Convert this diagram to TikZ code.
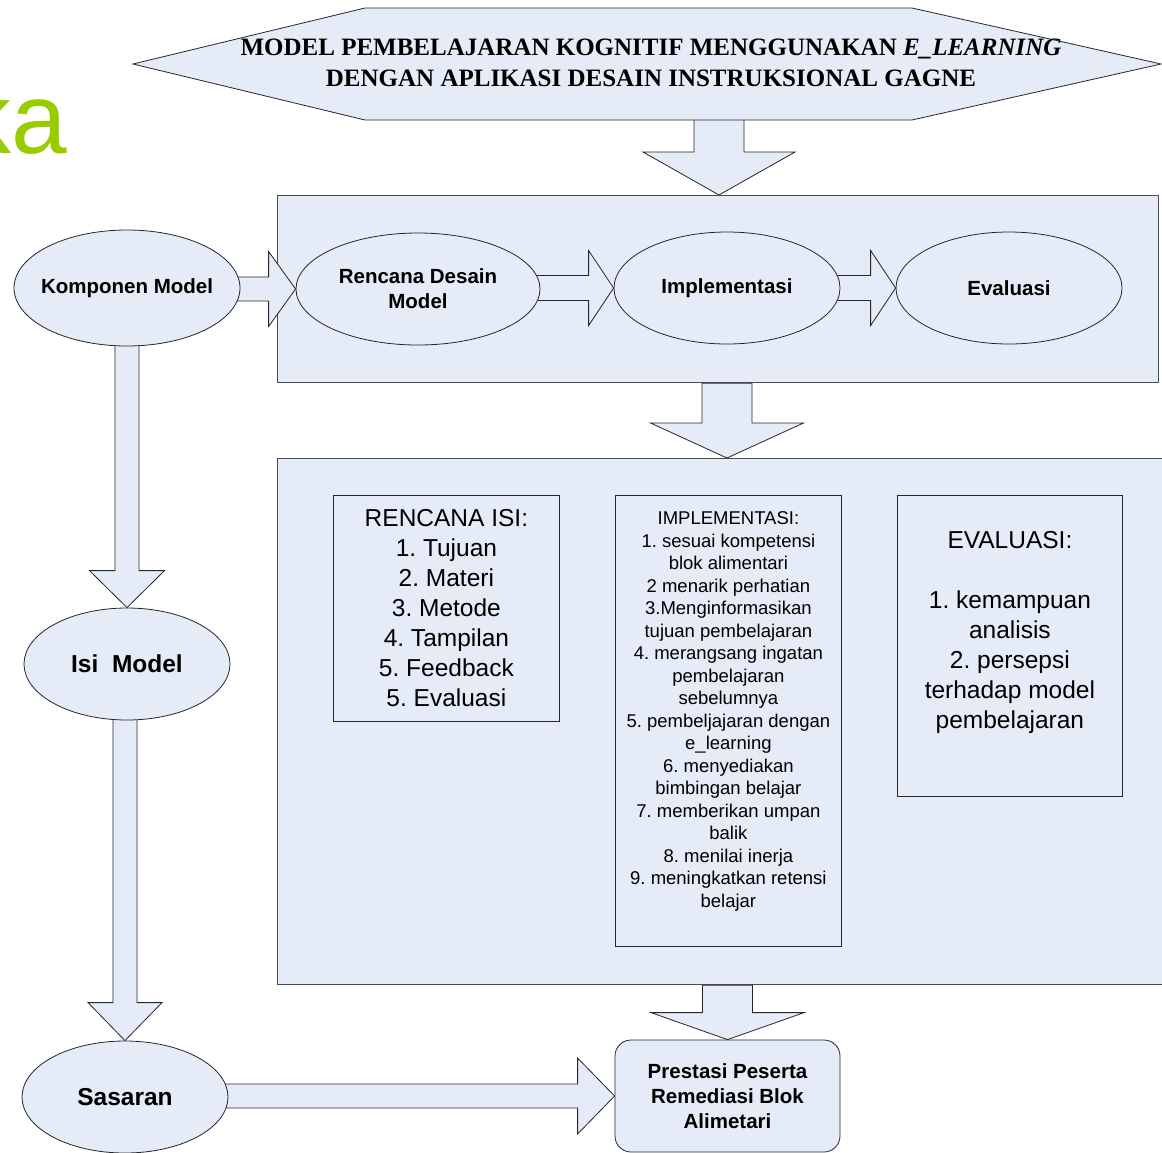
\documentclass[tikz,border=0pt]{standalone}
\usepackage{fontspec}
\setmainfont{Liberation Sans}
\newfontfamily\serifhead{Liberation Serif}
\usetikzlibrary{shapes.geometric,calc}
\definecolor{panelfill}{RGB}{229,236,247}
\definecolor{kagreen}{RGB}{153,204,0}
\pgfdeclarelayer{back}
\pgfdeclarelayer{arrows}
\pgfsetlayers{back,arrows,main}
\frenchspacing

% block arrow pointing down: #1 start, #2 tip, #3 shaft half width, #4 head half width, #5 head length
\newcommand\blockdown[5]{%
  \path[blockarrow] let \p1=(#1), \p2=(#2) in
    (\x2-#3pt,\y1) -- (\x2-#3pt,\y2+#5pt) -- (\x2-#4pt,\y2+#5pt) -- (\x2,\y2)
    -- (\x2+#4pt,\y2+#5pt) -- (\x2+#3pt,\y2+#5pt) -- (\x2+#3pt,\y1) -- cycle;}
% block arrow pointing right: same arguments
\newcommand\blockright[5]{%
  \path[blockarrow] let \p1=(#1), \p2=(#2) in
    (\x1,\y2+#3pt) -- (\x2-#5pt,\y2+#3pt) -- (\x2-#5pt,\y2+#4pt) -- (\x2,\y2)
    -- (\x2-#5pt,\y2-#4pt) -- (\x2-#5pt,\y2-#3pt) -- (\x1,\y2-#3pt) -- cycle;}

\begin{document}
\begin{tikzpicture}[x=1pt,y=-1pt,
  stage/.style={draw=black!70, line width=1.3pt, fill=panelfill, inner sep=0, anchor=north west},
  oval/.style={ellipse, draw=black!85, line width=0.8pt, fill=panelfill, inner sep=0},
  ovaltext/.style={inner sep=0, align=center, font=\bfseries\fontsize{20.5}{25}\selectfont},
  bigovaltext/.style={ovaltext, font=\bfseries\fontsize{24.5}{30}\selectfont},
  listbox/.style={draw=black!85, line width=0.8pt, fill=panelfill, inner sep=0, anchor=north west},
  listtext/.style={inner sep=0, anchor=north, align=center},
  goalbox/.style={draw=black!85, line width=0.8pt, fill=panelfill, inner sep=0, rounded corners=16pt,
               align=center, font=\bfseries\fontsize{20.5}{25}\selectfont},
  blockarrow/.style={draw=black!85, line width=0.8pt, fill=panelfill, line join=miter}]
\useasboundingbox (0,0) rectangle (1162,1152);
\clip (0,0) rectangle (1162,1152);

% green letters at the left edge
\node[anchor=base east, text=kagreen, inner sep=0, font=\fontsize{100}{100}\selectfont] (ka) at (67,153) {ka};

% title banner
\path[blockarrow] (133,64) -- (365,8) -- (912,8) -- (1161,64) -- (912,120) -- (365,120) -- cycle;
\node[inner sep=0, align=center, font=\serifhead\bfseries\fontsize{25}{31}\selectfont] (title) at (651,63)
  {MODEL PEMBELAJARAN KOGNITIF MENGGUNAKAN \textit{E\_LEARNING}\\DENGAN APLIKASI DESAIN INSTRUKSIONAL GAGNE};
\coordinate (titlefoot) at (719,90);

% panels
\begin{pgfonlayer}{back}
  \node[stage, minimum width=881pt, minimum height=187pt] (stage) at (277,195) {};
  \node[stage, minimum width=900pt, minimum height=526pt] (panel) at (277,458) {};
\end{pgfonlayer}

% model stages: ellipse outlines, then their labels
\node[oval, minimum width=226pt, minimum height=116pt] (komp) at (127,288) {};
\node[oval, minimum width=244pt, minimum height=112pt] (renc) at (418,289) {};
\node[oval, minimum width=226pt, minimum height=112pt] (impl) at (727,288) {};
\node[oval, minimum width=226pt, minimum height=112pt] (eval) at (1009,288) {};
\node[oval, minimum width=206pt, minimum height=112pt] (isi) at (127,664) {};
\node[oval, minimum width=206pt, minimum height=112pt] (sasaran) at (125,1097) {};

\node[ovaltext] (kompname) at (komp) {Komponen Model};
\node[ovaltext] (rencname) at (renc) {Rencana Desain\\Model};
\node[ovaltext] (implname) at (impl) {Implementasi};
\node[ovaltext] (evalname) at (eval) {Evaluasi};
\node[bigovaltext] (isiname) at (isi) {Isi\ \ Model};
\node[bigovaltext] (sasaranname) at (sasaran) {Sasaran};

% content boxes
\node[listbox, minimum width=226pt, minimum height=226pt] (rbox) at (333,495) {};
\node[listbox, minimum width=226pt, minimum height=451pt] (ibox) at (615,495) {};
\node[listbox, minimum width=225pt, minimum height=301pt] (ebox) at (897,495) {};

\node[listtext, font=\fontsize{24.5}{30}\selectfont] (rtext) at ($(rbox.north)+(0,14.5)$)
  {RENCANA ISI:\\1. Tujuan\\2. Materi\\3. Metode\\4. Tampilan\\5. Feedback\\5. Evaluasi};
\node[listtext, font=\fontsize{18.5}{22.5}\selectfont] (itext) at ($(ibox.north)+(0,16.5)$)
  {IMPLEMENTASI:\\1. sesuai kompetensi\\blok alimentari\\2 menarik perhatian\\3.Menginformasikan\\
   tujuan pembelajaran\\4. merangsang ingatan\\pembelajaran\\sebelumnya\\5. pembeljajaran dengan\\
   e\_learning\\6. menyediakan\\bimbingan belajar\\7. memberikan umpan\\balik\\8. menilai inerja\\
   9. meningkatkan retensi\\belajar};
\node[listtext, font=\fontsize{24.5}{30}\selectfont] (etext) at ($(ebox.north)+(0,36.5)$)
  {EVALUASI:\\[30pt]1. kemampuan\\analisis\\2. persepsi\\terhadap model\\pembelajaran};

\node[goalbox, minimum width=225pt, minimum height=112pt] (goal) at (727.5,1096)
  {Prestasi Peserta\\Remediasi Blok\\Alimetari};

% block arrows
\begin{pgfonlayer}{arrows}
  \blockdown{titlefoot}{titlefoot |- stage.north}{25}{76}{43}
  \blockdown{stage.south}{impl |- panel.north}{25}{76.5}{35}
  \blockdown{panel.south}{goal.north}{25}{76.5}{27}
  \blockright{komp.center}{renc.west}{12}{37.5}{27}
  \blockright{renc.center}{impl.west}{12.5}{37.5}{25}
  \blockright{impl.center}{eval.west}{12.5}{37.5}{25}
  \blockdown{komp.center}{isi.north}{12}{37.5}{37}
  \blockdown{isi.center}{sasaran.north}{12}{37}{38}
  \blockright{sasaran.center}{goal.west}{12}{38}{37}
\end{pgfonlayer}
\end{tikzpicture}
\end{document}
